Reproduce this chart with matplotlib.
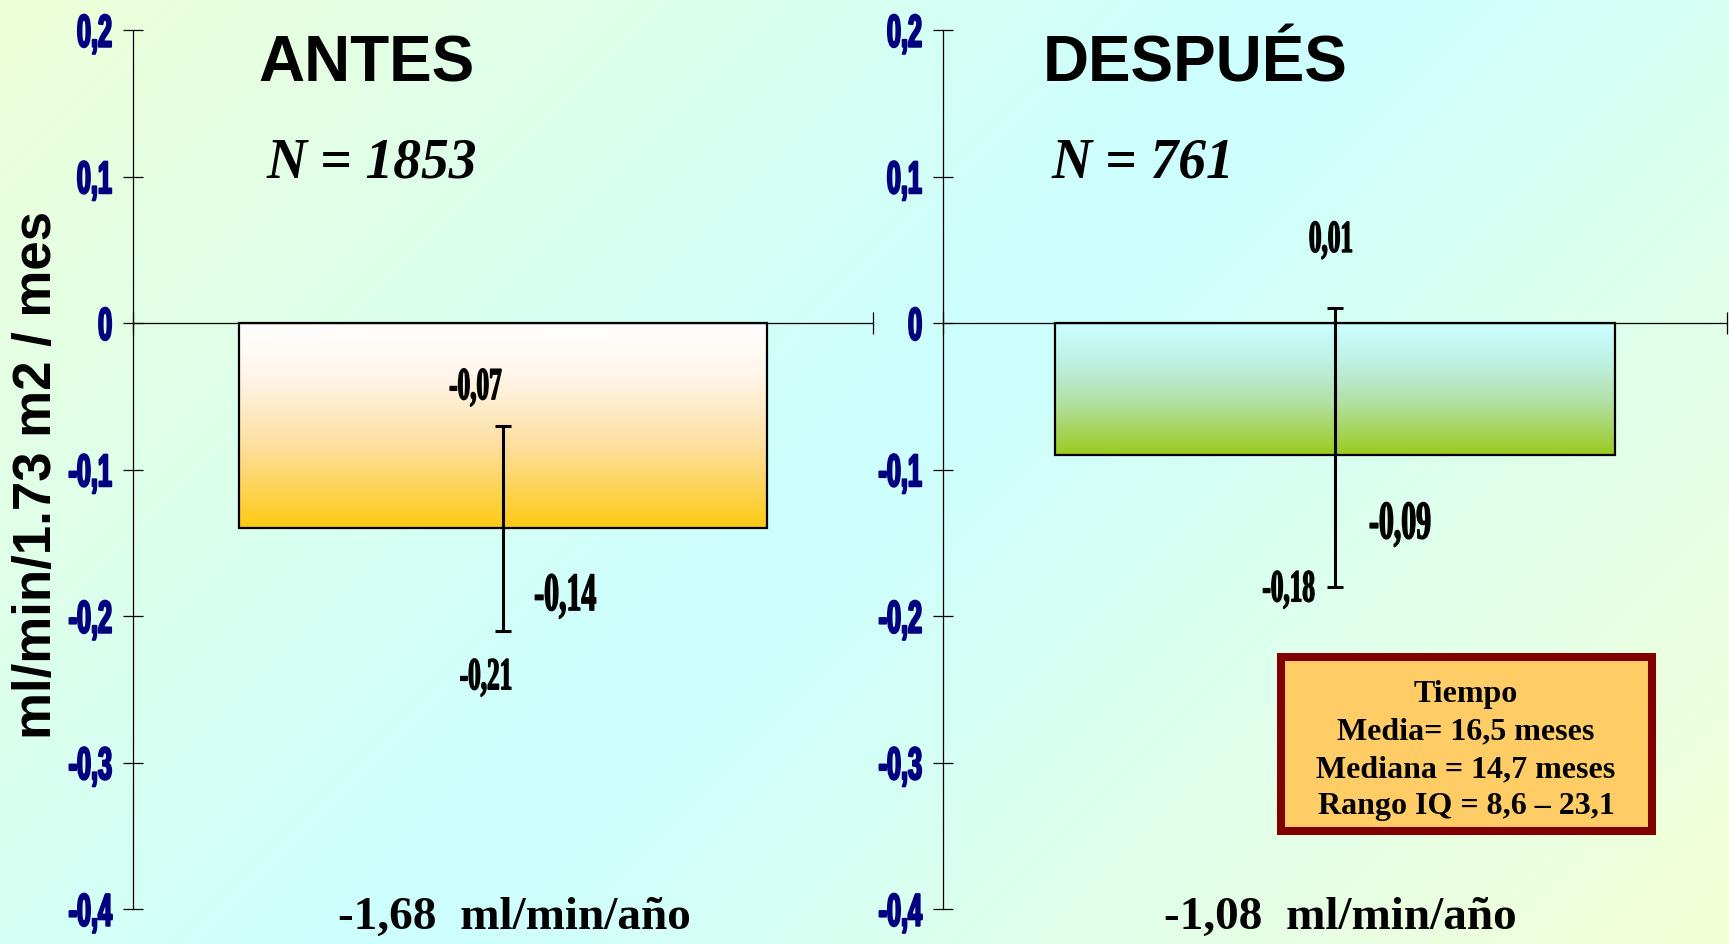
import numpy as np
import matplotlib
matplotlib.use('Agg')
import matplotlib.pyplot as plt
from matplotlib.colors import LinearSegmentedColormap
from matplotlib.patches import Rectangle
from matplotlib.patheffects import AbstractPathEffect
from matplotlib.transforms import Affine2D

# Data
panels = ['ANTES', 'DESPUÉS']
n_labels = ['N = 1853', 'N = 761']
means = [-0.14, -0.09]
lows = [-0.21, -0.18]
highs = [-0.07, 0.01]
rates = ['-1,68  ml/min/año', '-1,08  ml/min/año']
yticks = [0.2, 0.1, 0, -0.1, -0.2, -0.3, -0.4]
ytick_labels = ['0,2', '0,1', '0', '-0,1', '-0,2', '-0,3', '-0,4']
ylabel = 'ml/min/1.73 m2 / mes'
box_lines = ['Tiempo', 'Media= 16,5 meses', 'Mediana = 14,7 meses', 'Rango IQ = 8,6 – 23,1']

W, H = 1729, 944
SANS = ['Liberation Sans', 'DejaVu Sans']
SERIF = ['Liberation Serif', 'DejaVu Serif']
SQ = 0.55  # the chart in the slide was stretched: its numbers are tall and narrow


class Tall(AbstractPathEffect):
    # stretch glyphs vertically (and thicken them a little)
    def __init__(self, sy, mid=False, stroke=0.0):
        super().__init__()
        self.sy = sy
        self.mid = mid
        self.stroke = stroke

    def draw_path(self, renderer, gc, tpath, affine, rgbFace=None):
        cy = tpath.get_extents().y1 / 2 if self.mid else 0
        t = Affine2D().translate(0, -cy).scale(1, self.sy).translate(0, cy) + affine
        gc0 = renderer.new_gc()
        gc0.copy_properties(gc)
        if self.stroke and rgbFace is not None:
            gc0.set_linewidth(self.stroke)
            gc0.set_foreground(rgbFace)
        renderer.draw_path(gc0, tpath, t, rgbFace)
        gc0.restore()


def fmt(v):
    return f'{v:.2f}'.replace('.', ',')


fig = plt.figure(figsize=(W / 100, H / 100), dpi=100)

# background gradient
bg_cmap = LinearSegmentedColormap.from_list('bg', [(0, '#EEFFD8'), (0.5, '#CCFFFF'), (1, '#F4FFD6')])
bg = fig.add_axes([0, 0, 1, 1], zorder=-10)
yy, xx = np.mgrid[0:H, 0:W]
bg.imshow((xx + yy) / (W + H), cmap=bg_cmap, vmin=0, vmax=1, aspect='auto')
bg.axis('off')

bar_cmaps = [
    LinearSegmentedColormap.from_list('antes', [(0, '#FFFFFF'), (0.25, '#FFF6EC'), (0.6, '#FDDF9F'), (1, '#FFCA14')]),
    LinearSegmentedColormap.from_list('desp', [(0, '#CCFFFF'), (0.3, '#BEF0E4'), (0.6, '#B2E0A4'), (1, '#99CC1E')]),
]

ax_rects = [[133 / W, 1 - 909 / H, 740 / W, 879 / H],
            [943 / W, 1 - 909 / H, 784 / W, 879 / H]]
bar_width = 0.714
# label positions (x, y) in data units: upper, mean, lower
label_pos = [
    [(-0.037, -0.052), (0.084, -0.196), (-0.023, -0.250)],
    [(-0.005, 0.0485), (0.083, -0.147), (-0.059, -0.190)],
]
title_x = [367 / W, 1195 / W]
n_x = [372 / W, 1143 / W]
rate_x = [514 / W, 1340 / W]

for i in range(2):
    ax = fig.add_axes(ax_rects[i])
    ax.set_facecolor('none')

    bar = ax.bar(0, means[i], width=bar_width, color='none', edgecolor='black', linewidth=1.6, zorder=3)[0]
    grad = np.linspace(0, 1, 256).reshape(-1, 1)
    im = ax.imshow(grad, cmap=bar_cmaps[i], aspect='auto', origin='upper',
                   extent=[-bar_width / 2, bar_width / 2, means[i], 0], zorder=2)
    im.set_clip_path(bar)

    ax.errorbar([0], [means[i]], yerr=[[means[i] - lows[i]], [highs[i] - means[i]]],
                fmt='none', ecolor='black', elinewidth=2.2, capsize=5.5, capthick=2.2, zorder=4)

    ax.set_xlim(-0.5, 0.5)
    ax.set_ylim(-0.4, 0.2)

    for s in ['top', 'right']:
        ax.spines[s].set_visible(False)
    ax.spines['bottom'].set_position(('data', 0))
    ax.spines['left'].set_linewidth(0.9)
    ax.spines['bottom'].set_linewidth(0.9)

    ax.set_xticks([-0.5, 0.5], ['', ''])
    ax.tick_params(axis='x', direction='inout', length=16, width=0.9)
    ax.set_yticks(yticks, ytick_labels)
    ax.tick_params(axis='y', direction='inout', length=13.7, width=0.9, pad=8.2,
                   labelsize=33 * SQ, labelcolor='#000080')
    for lab in ax.get_yticklabels():
        lab.set_fontfamily(SANS)
        lab.set_fontweight('bold')
        lab.set_path_effects([Tall(1 / SQ, mid=True, stroke=1.5)])

    vals = [highs[i], means[i], lows[i]]
    sizes = [33, 39, 33]
    for (x, y), v, s in zip(label_pos[i], vals, sizes):
        ax.text(x, y, fmt(v), ha='center', va='baseline', fontsize=s * SQ, fontweight='bold',
                family=SERIF, path_effects=[Tall(1 / SQ, stroke=1.0)], zorder=5)

    fig.text(title_x[i], 1 - 82 / H, panels[i], ha='center', va='baseline',
             fontsize=46, fontweight='bold', family=SANS)
    fig.text(n_x[i], 1 - 178 / H, n_labels[i], ha='center', va='baseline',
             fontsize=40, fontweight='bold', fontstyle='italic', family=SERIF)
    fig.text(rate_x[i], 1 - 929 / H, rates[i], ha='center', va='baseline',
             fontsize=34, fontweight='bold', family=SERIF)

fig.text(37 / W, 1 - 475 / H, ylabel, rotation=90, ha='center', va='center',
         fontsize=38, fontweight='bold', family=SANS)

# box with the follow-up time
fig.add_artist(Rectangle((1281 / W, 1 - 831 / H), 371 / W, 174 / H, transform=fig.transFigure,
                         facecolor='#FFCC66', edgecolor='#800000', linewidth=5.8))
box_base = [702, 739, 777, 814]
for line, yb in zip(box_lines, box_base):
    fig.text(1466 / W, 1 - yb / H, line, ha='center', va='baseline',
             fontsize=23, fontweight='bold', family=SERIF)

fig.savefig('out.png', dpi=100)
